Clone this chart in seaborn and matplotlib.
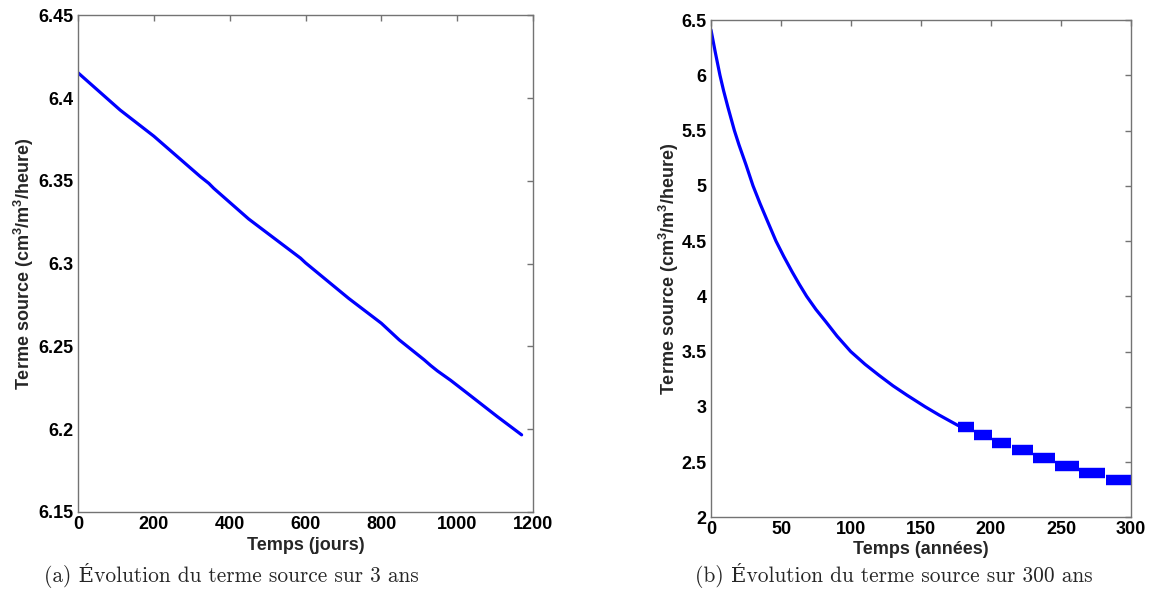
import numpy as np
import pandas as pd
import matplotlib
matplotlib.use("Agg")
import matplotlib.pyplot as plt
import seaborn as sns

# ---------------- data ----------------
days = [0, 111, 200, 323, 345, 358, 450, 587, 600, 714, 800, 847, 913, 930,
        948, 983, 1027, 1106, 1170]
source_days = [6.4153, 6.3928, 6.377, 6.3525, 6.3485, 6.3455, 6.327, 6.3033,
               6.3005, 6.279, 6.264, 6.254, 6.2419, 6.2385, 6.2352, 6.2295,
               6.2217, 6.2076, 6.1966]

years = [0, 3, 6.4, 9, 12, 16.7, 20, 25, 30, 35, 40, 46.4, 52, 58, 63, 68.3,
         75, 82, 90, 99.8, 110, 120, 130, 140, 153, 163, 173, 176.6]
source_years = [6.41, 6.212, 6.0, 5.86, 5.715, 5.5, 5.37, 5.19, 5.0, 4.84,
                4.69, 4.50, 4.36, 4.22, 4.11, 4.0, 3.88, 3.77, 3.64, 3.5,
                3.385, 3.285, 3.19, 3.105, 3.0, 2.925, 2.855, 2.83]

step_start = [176.6, 188.0, 200.8, 215.1, 230.1, 246.0, 263.1, 281.8]
step_end = [187.6, 200.6, 214.6, 229.8, 245.6, 262.8, 281.5, 300.0]
step_value = [2.814, 2.744, 2.674, 2.606, 2.536, 2.466, 2.399, 2.337]

xticks_a = [0, 200, 400, 600, 800, 1000, 1200]
yticks_a = [6.15, 6.2, 6.25, 6.3, 6.35, 6.4, 6.45]
ylabels_a = ["6.15", "6.2", "6.25", "6.3", "6.35", "6.4", "6.45"]
xticks_b = [0, 50, 100, 150, 200, 250, 300]
yticks_b = [2, 2.5, 3, 3.5, 4, 4.5, 5, 5.5, 6, 6.5]
ylabels_b = ["2", "2.5", "3", "3.5", "4", "4.5", "5", "5.5", "6", "6.5"]

ylabel = "Terme source (cm$^3$/m$^3$/heure)"
xlabel_a = "Temps (jours)"
xlabel_b = "Temps (années)"
caption_a = "(a) Évolution du terme source sur 3 ans"
caption_b = "(b) Évolution du terme source sur 300 ans"

# ---------------- style ----------------
sns.set_theme(style="white")
plt.rcParams["font.family"] = ["Liberation Sans", "DejaVu Sans"]
plt.rcParams["mathtext.fontset"] = "custom"
plt.rcParams["mathtext.bf"] = "Liberation Sans:bold"
plt.rcParams["mathtext.rm"] = "Liberation Sans:bold"
plt.rcParams["mathtext.default"] = "bf"

W, H = 1149, 603
fig = plt.figure(figsize=(W / 100, H / 100), dpi=100)
fig.patch.set_facecolor("white")

ax_a = fig.add_axes([78 / W, 1 - 512 / H, 455 / W, (512 - 15.3) / H])
ax_b = fig.add_axes([711 / W, 1 - 517.3 / H, 420 / W, (517.3 - 20) / H])

blue = "#0000ff"
df_a = pd.DataFrame({"t": days, "v": source_days})
sns.lineplot(data=df_a, x="t", y="v", ax=ax_a, color=blue, lw=2.3,
             estimator=None, sort=False)

df_b = pd.DataFrame({"t": years, "v": source_years})
sns.lineplot(data=df_b, x="t", y="v", ax=ax_b, color=blue, lw=2.3,
             estimator=None, sort=False)

rows = []
for i, (s, e, v) in enumerate(zip(step_start, step_end, step_value)):
    rows.append({"id": i, "t": s, "v": v})
    rows.append({"id": i, "t": e, "v": v})
df_steps = pd.DataFrame(rows)
sns.lineplot(data=df_steps, x="t", y="v", units="id", estimator=None,
             ax=ax_b, color=blue, lw=7.5, solid_capstyle="butt", sort=False)

spine_col = "0.45"
FS = 13
for ax, xt, yt, yl, xl, xlim, ylim, ylc, xlc in [
    (ax_a, xticks_a, yticks_a, ylabels_a, xlabel_a, (0, 1200), (6.15, 6.45), -0.119, -0.068),
    (ax_b, xticks_b, yticks_b, ylabels_b, xlabel_b, (0, 300), (2, 6.5), -0.10, -0.064),
]:
    ax.set_xlim(*xlim)
    ax.set_ylim(*ylim)
    ax.set_xticks(xt, [str(x) for x in xt])
    ax.set_yticks(yt, yl)
    ax.tick_params(direction="in", length=4, width=1, color=spine_col,
                   top=True, right=True, labelsize=FS, pad=3,
                   labelcolor="black")
    for lab in ax.get_xticklabels() + ax.get_yticklabels():
        lab.set_fontweight("bold")
    for sp in ax.spines.values():
        sp.set_color(spine_col)
        sp.set_linewidth(1)
        sp.set_visible(True)
    ax.set_xlabel(xl, fontsize=FS, fontweight="bold", va="center")
    ax.set_ylabel(ylabel, fontsize=FS, fontweight="bold", va="center")
    ax.yaxis.set_label_coords(ylc, 0.5)
    ax.xaxis.set_label_coords(0.5, xlc)
    ax.grid(False)
    ax.set_facecolor("white")

cap_font = ["cmr10", "DejaVu Serif"]
fig.text(231 / W, 1 - 575 / H, caption_a, ha="center", va="center",
         fontsize=15.4, family=cap_font)
fig.text(894 / W, 1 - 575 / H, caption_b, ha="center", va="center",
         fontsize=15.4, family=cap_font)

fig.savefig("out.png", dpi=100)
